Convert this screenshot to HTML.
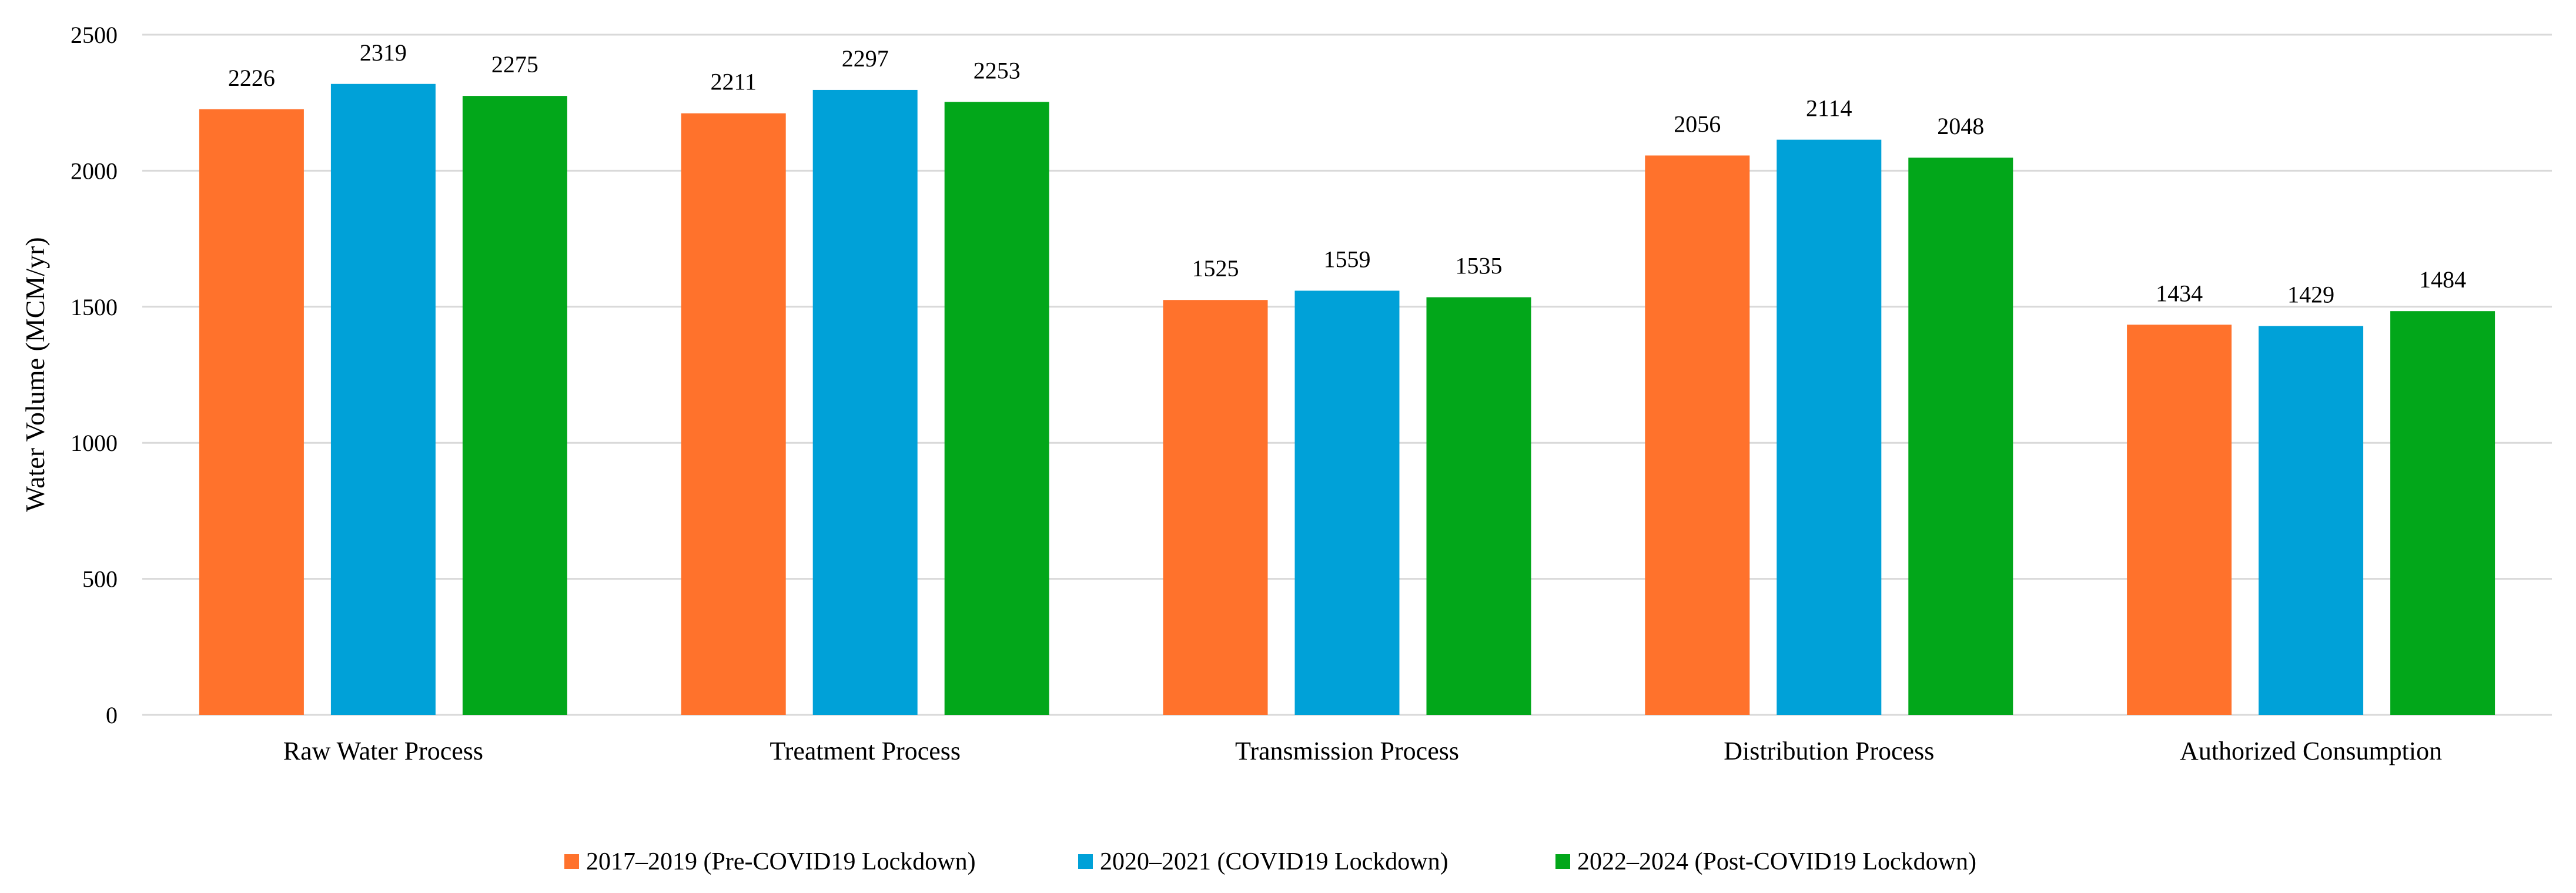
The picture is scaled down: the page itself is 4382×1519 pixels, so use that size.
<!DOCTYPE html>
<html><head><meta charset="utf-8"><style>
html,body{margin:0;padding:0;background:#fff;}
svg{display:block;font-family:"Liberation Serif",serif;}
</style></head><body>
<svg id="chart" width="4382" height="1519" viewBox="0 0 4382 1519">
<g id="grid"></g><g id="bars"></g><g id="labels"></g><g id="legend"></g>
<text transform="translate(75,637) rotate(-90)" text-anchor="middle" font-size="46" fill="#000">Water Volume (MCM/yr)</text>
</svg>
<script>
const categories = ["Raw Water Process","Treatment Process","Transmission Process","Distribution  Process","Authorized Consumption"];
const series1 = [2226,2211,1525,2056,1434];
const series2 = [2319,2297,1559,2114,1429];
const series3 = [2275,2253,1535,2048,1484];
const seriesNames = ["2017\u20132019 (Pre-COVID19 Lockdown)","2020\u20132021  (COVID19 Lockdown)","2022\u20132024  (Post-COVID19 Lockdown)"];
const yTicks = [0,500,1000,1500,2000,2500];

const colors=["#FF722C","#00A1D8","#02A71A"];
const NS="http://www.w3.org/2000/svg";
const L=242,R=4341,T=59,B=1216,yMax=2500;
const y=v=>B-(v/yMax)*(B-T);
const gw=(R-L)/categories.length;
const x=i=>L+gw*(i+0.5);
function mk(tag,attrs,parent,text){const e=document.createElementNS(NS,tag);for(const k in attrs)e.setAttribute(k,attrs[k]);if(text!==undefined)e.textContent=text;document.getElementById(parent).appendChild(e);return e;}
yTicks.forEach(t=>{
  const g=mk("line",{x1:L,x2:R,y1:y(t),y2:y(t),stroke:"#d9d9d9","stroke-width":3},"grid");
  
  
  const tl=mk("text",{x:200,y:y(t)+14,"text-anchor":"end","font-size":40,fill:"#000"},"grid",String(t));
  
  
});
const all=[series1,series2,series3];
const bw=178,step=224;
categories.forEach((c,i)=>{
  all.forEach((s,j)=>{
    const cx=x(i)+(j-1)*step;
    const r=mk("rect",{x:cx-bw/2,y:y(s[i]),width:bw,height:B-y(s[i]),fill:colors[j]},"bars");
    
    
    const v=mk("text",{x:cx,y:y(s[i])-40,"text-anchor":"middle","font-size":40,fill:"#000"},"labels",String(s[i]));
    
    
  });
  const cl=mk("text",{x:x(i),y:1292,"text-anchor":"middle","font-size":44,fill:"#000"},"labels",c);
  
  
});
const lx=[960,1834,2646];
seriesNames.forEach((n,j)=>{
  const m=mk("rect",{x:lx[j],y:1453,width:25,height:25,fill:colors[j]},"legend");
  
  
  const t=mk("text",{x:lx[j]+37,y:1479,"font-size":42,fill:"#000"},"legend",n);
  
  
});
</script>
</body></html>
